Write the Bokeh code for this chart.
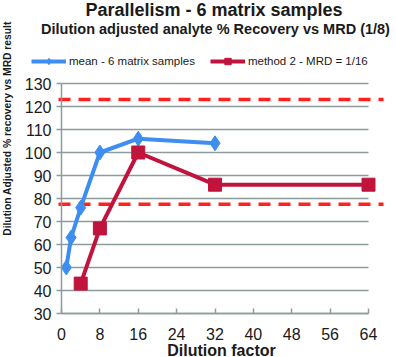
import math
from bokeh.plotting import figure
from bokeh.models import Legend, LegendItem, FixedTicker, Range1d, Label
from bokeh.embed import file_html
from bokeh.resources import INLINE

mean_x = [1, 2, 4, 8, 16, 32]
mean_y = [50, 63, 76, 100, 106, 104]
m2_x = [4, 8, 16, 32, 64]
m2_y = [43, 67, 100, 86, 86]
limits = [123, 77.5]
x_ticks = [0, 8, 16, 24, 32, 40, 48, 56, 64]
y_ticks = [30, 40, 50, 60, 70, 80, 90, 100, 110, 120, 130]

FONT = "Liberation Sans"
BLUE = "#3d8ef0"
RED = "#c0143c"
GRID = "#8c9c9c"
TXT = "#1a1a1a"
W, H = 396, 357

# plot-area geometry in pixels (the whole canvas is the frame)
X0_PX, X1_PX = 61, 368      # x = first / last x tick
Y0_PX, Y1_PX = 313, 83      # y = first / last y tick
kx = (X1_PX - X0_PX) / (x_ticks[-1] - x_ticks[0])
ky = (Y0_PX - Y1_PX) / (y_ticks[-1] - y_ticks[0])


def dx(px):
    return x_ticks[0] + (px - X0_PX) / kx


def dy(py):
    return y_ticks[0] + (Y0_PX - py) / ky


p = figure(width=W, height=H, output_backend="svg", toolbar_location=None,
           x_range=Range1d(dx(0), dx(W)), y_range=Range1d(dy(H), dy(0)), title=None,
           min_border=0, min_border_left=0, min_border_right=0,
           min_border_top=0, min_border_bottom=0)
p.outline_line_color = None
p.background_fill_color = "white"
p.xgrid.visible = False
p.ygrid.visible = False

# horizontal gridlines, from the tick lists
p.segment(x0=[x_ticks[0]] * len(y_ticks), x1=[x_ticks[-1]] * len(y_ticks),
          y0=y_ticks, y1=y_ticks, line_color=GRID, line_width=1.5)

# acceptance limits
p.segment(x0=[dx(58)] * len(limits), x1=[dx(383)] * len(limits),
          y0=limits, y1=limits, line_color="#ff2020", line_width=3.5, line_dash="12 8")

xa = p.xaxis[0]
ya = p.yaxis[0]
xa.ticker = FixedTicker(ticks=x_ticks)
ya.ticker = FixedTicker(ticks=y_ticks)
xa.bounds = (x_ticks[0], x_ticks[-1])
ya.bounds = (y_ticks[0], y_ticks[-1])
xa.fixed_location = y_ticks[0]
ya.fixed_location = x_ticks[0]
for ax in (xa, ya):
    ax.axis_line_color = GRID
    ax.axis_line_width = 1.5
    ax.major_tick_line_color = GRID
    ax.major_tick_line_width = 1.5
    ax.minor_tick_line_color = None
    ax.major_label_text_font = FONT
    ax.major_label_text_font_size = "16px"
    ax.major_label_text_color = TXT
xa.major_tick_in = 5
xa.major_tick_out = 0
xa.major_label_standoff = 14
ya.major_tick_in = 0
ya.major_tick_out = 5
ya.major_label_standoff = 5

l1 = p.line(mean_x, mean_y, line_color=BLUE, line_width=4)
s1 = p.scatter(mean_x, mean_y, marker="diamond", size=15, fill_color=BLUE, line_color=BLUE)
l2 = p.line(m2_x, m2_y, line_color=RED, line_width=4)
s2 = p.scatter(m2_x, m2_y, marker="square", size=13, fill_color=RED, line_color=RED)

legend = Legend(items=[LegendItem(label="mean - 6 matrix samples", renderers=[l1, s1]),
                       LegendItem(label="method 2 - MRD = 1/16", renderers=[l2, s2])],
                orientation="horizontal", location=(31, H - 69),
                label_text_font=FONT, label_text_font_size="11.5px",
                label_text_color=TXT, border_line_color=None,
                background_fill_alpha=0, glyph_width=35, glyph_height=16,
                label_height=16, spacing=15, label_standoff=3, padding=2, margin=0)
p.add_layout(legend, "center")

texts = [
    ("Parallelism - 6 matrix samples", 213.5, 9.5, 0, "18px"),
    ("Dilution adjusted analyte % Recovery vs MRD (1/8)", 215, 28, 0, "14.5px"),
    ("Dilution factor", 221, 349.5, 0, "16px"),
    ("Dilution Adjusted % recovery vs MRD result", 6.5, 128, math.pi / 2, "10.3px"),
]
for txt, px, py, ang, fs in texts:
    p.add_layout(Label(x=dx(px), y=dy(py), text=txt, angle=ang, text_align="center",
                       text_baseline="alphabetic", text_font=FONT, text_font_size=fs,
                       text_font_style="bold", text_color=TXT))

open("out.html", "w").write(file_html(p, INLINE))
